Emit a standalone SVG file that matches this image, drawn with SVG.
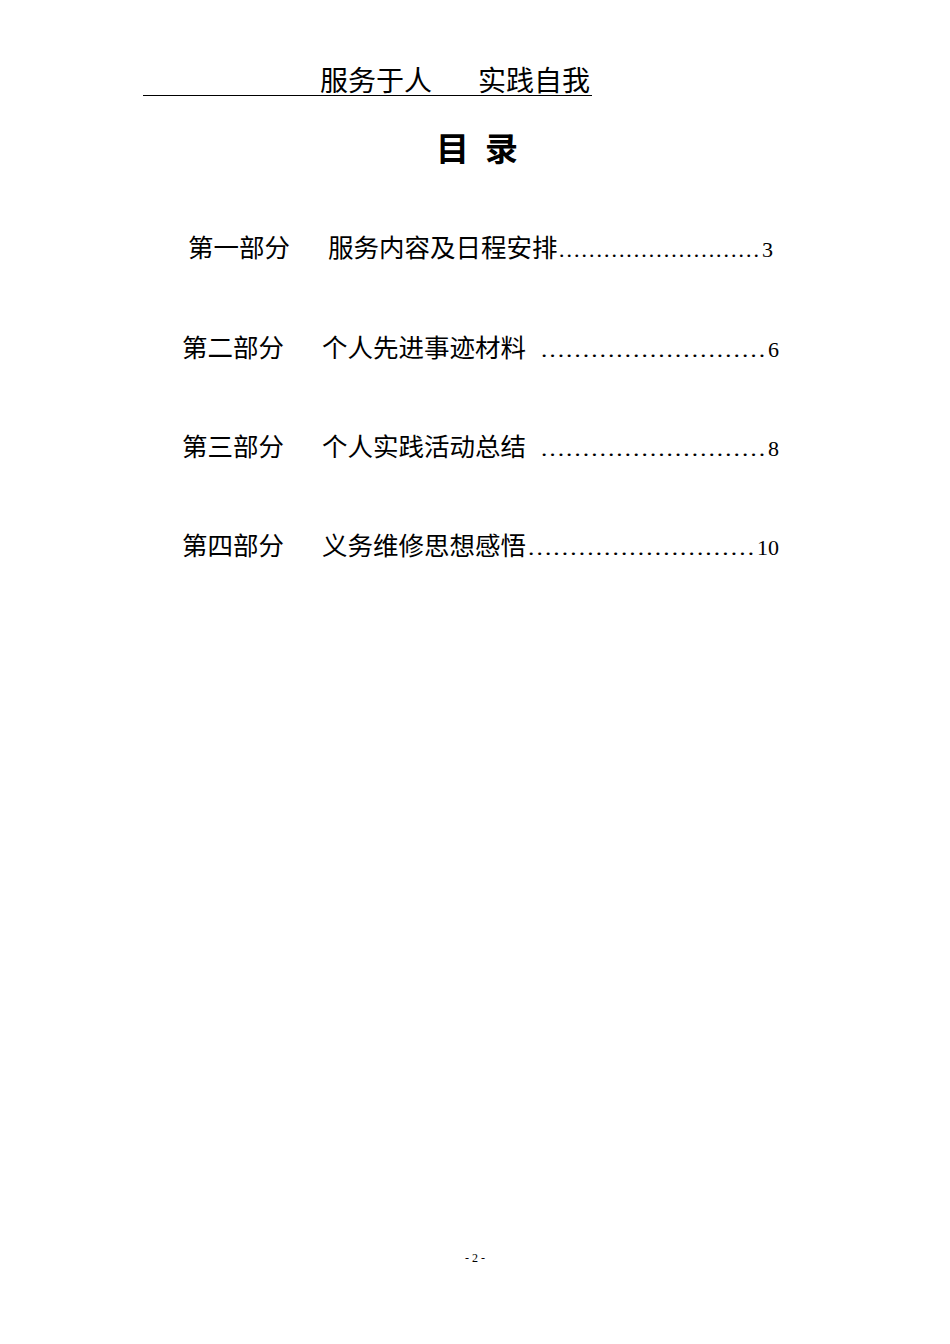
<svg xmlns="http://www.w3.org/2000/svg" width="950" height="1344" viewBox="0 0 950 1344">
<style>
.c{font-family:"Noto Sans CJK SC","Liberation Serif",serif;font-size:25.5px;fill:#000}
.n{font-family:"Liberation Serif",serif;font-size:22px;fill:#000}
.d{font-family:"Liberation Serif",serif;font-size:22px;fill:#000}
</style>
<rect width="950" height="1344" fill="#fff"/>
<g id="header">
<text x="320" y="91" font-family="Noto Sans CJK SC,serif" font-size="28">服务于人</text>
<text x="478" y="91" font-family="Noto Sans CJK SC,serif" font-size="28">实践自我</text>
<line x1="143" y1="95.5" x2="592" y2="95.5" stroke="#000" stroke-width="1"/>
</g>
<text id="title" x="436" y="161" font-family="Noto Sans CJK SC,sans-serif" font-weight="bold" font-size="33" textLength="82" lengthAdjust="spacing">目 录</text>
<g id="toc1">
<text class="c" x="188" y="257">第一部分</text>
<text class="c" x="328" y="257">服务内容及日程安排</text>
<text class="d" x="558" y="257" textLength="202" lengthAdjust="spacingAndGlyphs">………………………</text>
<text class="n" x="762" y="257">3</text>
</g>
<g id="toc2">
<text class="c" x="182" y="357">第二部分</text>
<text class="c" x="322" y="357">个人先进事迹材料</text>
<text class="d" x="540" y="357" textLength="226" lengthAdjust="spacingAndGlyphs">………………………</text>
<text class="n" x="768" y="357">6</text>
</g>
<g id="toc3">
<text class="c" x="182" y="456">第三部分</text>
<text class="c" x="322" y="456">个人实践活动总结</text>
<text class="d" x="540" y="456" textLength="226" lengthAdjust="spacingAndGlyphs">………………………</text>
<text class="n" x="768" y="456">8</text>
</g>
<g id="toc4">
<text class="c" x="182" y="555">第四部分</text>
<text class="c" x="322" y="555">义务维修思想感悟</text>
<text class="d" x="527" y="555" textLength="228" lengthAdjust="spacingAndGlyphs">………………………</text>
<text class="n" x="757" y="555">10</text>
</g>
<text id="page" x="475" y="1262" text-anchor="middle" font-family="Liberation Serif,serif" font-size="12">- 2 -</text>
</svg>
